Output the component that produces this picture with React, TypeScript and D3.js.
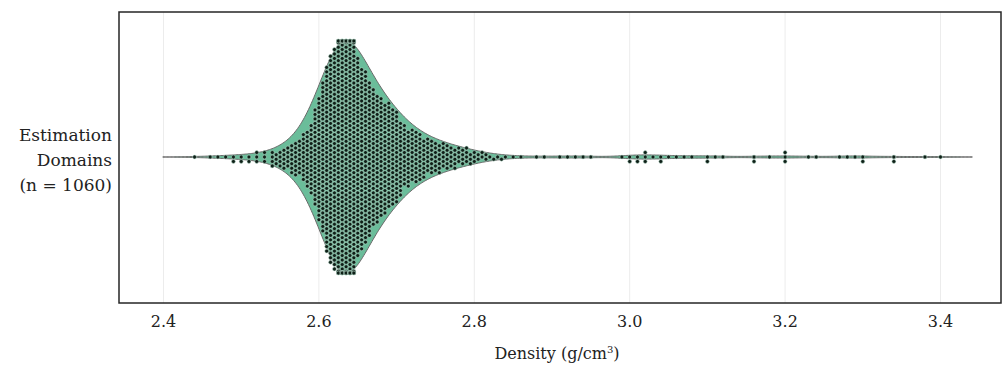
import React, { useMemo } from "react";
import * as d3 from "d3";

// ---------- data ----------
const leftTailDensity = [2.44, 2.46, 2.47, 2.48, 2.49, 2.49, 2.5, 2.5, 2.51, 2.51, 2.52, 2.52, 2.52, 2.53, 2.53, 2.53, 2.54, 2.54, 2.54, 2.54];
const coreDensity = [2.545, 2.55, 2.555, 2.56, 2.565, 2.57, 2.575, 2.58, 2.585, 2.59, 2.595, 2.6, 2.605, 2.61, 2.615, 2.62, 2.625, 2.63, 2.635, 2.64, 2.645, 2.65, 2.655, 2.66, 2.665, 2.67, 2.675, 2.68, 2.685, 2.69, 2.695, 2.7, 2.705, 2.71, 2.715, 2.72, 2.725, 2.73, 2.735, 2.74, 2.745, 2.75, 2.755, 2.76, 2.765, 2.77, 2.775, 2.78, 2.785, 2.79, 2.795, 2.8, 2.805, 2.81, 2.815, 2.82, 2.825, 2.83, 2.835, 2.84, 2.85];
const coreCount = [3, 4, 5, 5, 7, 8, 8, 11, 13, 16, 22, 28, 34, 42, 47, 50, 56, 60, 62, 60, 56, 45, 41, 39, 35, 31, 29, 27, 25, 24, 22, 21, 17, 14, 13, 12, 12, 11, 9, 8, 8, 7, 7, 6, 6, 5, 5, 4, 4, 4, 3, 3, 2, 2, 2, 1, 1, 1, 1, 1, 1];
const rightTailDensity = [2.86, 2.88, 2.89, 2.91, 2.92, 2.93, 2.94, 2.95, 2.99, 3.0, 3.0, 3.01, 3.01, 3.02, 3.02, 3.02, 3.03, 3.04, 3.04, 3.05, 3.06, 3.07, 3.08, 3.1, 3.1, 3.11, 3.12, 3.16, 3.16, 3.18, 3.2, 3.2, 3.2, 3.23, 3.24, 3.27, 3.28, 3.29, 3.3, 3.3, 3.34, 3.34, 3.38, 3.4];
const xTicks = [2.4, 2.6, 2.8, 3.0, 3.2, 3.4];
const yLabelLines = ["Estimation", "Domains", "(n = 1060)"];

const W = 1002;
const H = 369;
const frame = { left: 119, right: 1001, top: 12, bottom: 303 };
const cy = 157;
const halfWidth = 116;
const dotR = 1.95;
const dotD = 4.48;
const bwAdjust = 0.8;
const serif = "'DejaVu Serif', 'Liberation Serif', serif";

function beeswarm(xs: number[]): number[] {
  const idx = xs.map((_, i) => i).sort((a, b) => xs[a] - xs[b]);
  const placedX: number[] = [];
  const placedY: number[] = [];
  const out = new Array(xs.length).fill(0);
  let start = 0;
  for (const i of idx) {
    const x = xs[i];
    while (start < placedX.length && x - placedX[start] >= dotD) start++;
    const nx: number[] = [];
    const ny: number[] = [];
    for (let k = start; k < placedX.length; k++) {
      nx.push(placedX[k]);
      ny.push(placedY[k]);
    }
    const cands: number[] = [0];
    for (let k = 0; k < nx.length; k++) {
      const dx = x - nx[k];
      const dy = Math.sqrt(Math.max(0, dotD * dotD - dx * dx));
      cands.push(ny[k] + dy, ny[k] - dy);
    }
    cands.sort((a, b) => Math.abs(a) - Math.abs(b) || b - a);
    let chosen = 0;
    for (const c of cands) {
      let ok = true;
      for (let k = 0; k < nx.length; k++) {
        const dx = x - nx[k];
        const dy = c - ny[k];
        if (dx * dx + dy * dy < dotD * dotD - 1e-4) {
          ok = false;
          break;
        }
      }
      if (ok) {
        chosen = c;
        break;
      }
    }
    placedX.push(x);
    placedY.push(chosen);
    out[i] = chosen;
  }
  return out.map((y) => Math.max(-halfWidth, Math.min(halfWidth, y)));
}

export default function App() {
  const x = d3.scaleLinear().domain([2.4, 3.4]).range([163.5, 940.5]);

  const values = useMemo(() => {
    const v: number[] = [...leftTailDensity];
    coreDensity.forEach((d, i) => {
      for (let k = 0; k < coreCount[i]; k++) v.push(d);
    });
    v.push(...rightTailDensity);
    return v;
  }, []);

  const swarm = useMemo(() => {
    const xs = values.map((v) => x(v));
    const ys = beeswarm(xs);
    return xs.map((px, i) => ({ px, py: cy + ys[i] }));
  }, [values]);

  const violinPath = useMemo(() => {
    const n = values.length;
    const sd = d3.deviation(values)!;
    const bw = bwAdjust * sd * Math.pow(n, -0.2);
    const lo = d3.min(values)! - 2 * bw;
    const hi = d3.max(values)! + 2 * bw;
    const grid = d3.range(0, 601).map((i) => lo + ((hi - lo) * i) / 600);
    const dens = grid.map((g) => {
      let s = 0;
      for (const v of values) {
        const z = (g - v) / bw;
        s += Math.exp(-0.5 * z * z);
      }
      return s;
    });
    const maxD = d3.max(dens)!;
    const w = d3.scaleLinear().domain([0, maxD]).range([0, halfWidth]);
    const pts = grid.map((g, i) => ({ g, d: dens[i] }));
    return d3
      .area<{ g: number; d: number }>()
      .x((p) => x(p.g))
      .y0((p) => cy - w(p.d))
      .y1((p) => cy + w(p.d))
      .curve(d3.curveLinear)(pts)!;
  }, [values]);

  return (
    <svg width={W} height={H} style={{ display: "block", position: "absolute", left: 0, top: 0 }}>
      <rect x={0} y={0} width={W} height={H} fill="#fff" />
      <defs>
        <clipPath id="plotclip">
          <rect x={frame.left} y={frame.top} width={frame.right - frame.left} height={frame.bottom - frame.top} />
        </clipPath>
      </defs>
      {xTicks.map((t) => (
        <line key={t} x1={x(t)} x2={x(t)} y1={frame.top} y2={frame.bottom} stroke="#ececec" strokeWidth={1} />
      ))}
      <g clipPath="url(#plotclip)">
        <path d={violinPath} fill="#5db791" fillOpacity={0.92} stroke="#6a6a6a" strokeWidth={1} />
        {swarm.map((p, i) => (
          <circle key={i} cx={p.px} cy={p.py} r={dotR} fill="#0e1f17" stroke="#bfe3d2" strokeWidth={0.5} />
        ))}
      </g>
      <rect
        x={frame.left}
        y={frame.top}
        width={frame.right - frame.left}
        height={frame.bottom - frame.top}
        fill="none"
        stroke="#262626"
        strokeWidth={1.5}
      />
      {xTicks.map((t) => (
        <text key={t} x={x(t)} y={327} textAnchor="middle" fontFamily={serif} fontSize={16} fill="#222">
          {t.toFixed(1)}
        </text>
      ))}
      <text x={557} y={359} textAnchor="middle" fontFamily={serif} fontSize={16} fill="#222">
        Density (g/cm<tspan dy={-6} fontSize={10}>3</tspan>
        <tspan dy={6}>)</tspan>
      </text>
      {yLabelLines.map((s, i) => (
        <text key={s} x={112} y={141 + i * 25} textAnchor="end" fontFamily={serif} fontSize={17} fill="#222">
          {s}
        </text>
      ))}
    </svg>
  );
}
